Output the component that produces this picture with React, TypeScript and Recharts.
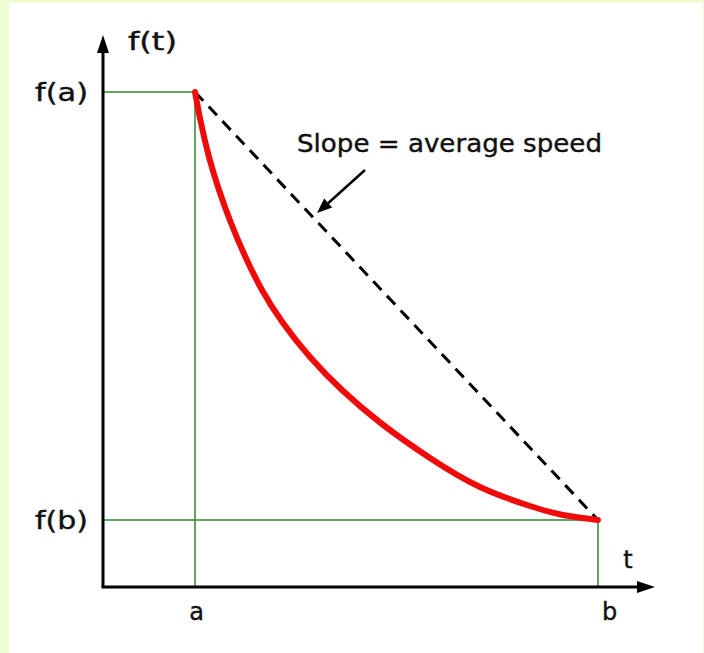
import React from "react";
import {
  ComposedChart,
  Line,
  Scatter,
  XAxis,
  YAxis,
  ReferenceLine,
} from "recharts";

// Units: t and f, origin at the axes crossing
const T_A = 0.92;
const T_B = 4.95;
const F_A = 4.95;
const F_B = 0.67;
const AXIS_END_T = 5.52;
const AXIS_END_F = 5.52;

const curveT = [0.92, 0.98, 1.06, 1.16, 1.28, 1.42, 1.59, 1.8, 2.07, 2.39, 2.79, 3.27, 3.77, 4.27, 4.6, 4.95];
const curveF = [4.95, 4.64, 4.3, 3.97, 3.64, 3.31, 2.97, 2.64, 2.3, 1.97, 1.63, 1.29, 1.0, 0.81, 0.72, 0.67];
const curveData = curveT.map((t, i) => ({ t, f: curveF[i] }));

const secantData = [
  { t: T_A, f: F_A },
  { t: T_B, f: F_B },
];

const annotArrowFrom = { t: 2.62, f: 4.17 };
const annotArrowTo = { t: 2.14, f: 3.74 };

const labelTexts = ["f(t)", "f(a)", "f(b)", "a", "b", "t", "Slope = average speed"];
const labelT = [0.25, -0.15, -0.15, 0.935, 5.065, 5.25, 1.94];
const labelF = [5.37, 4.86, 0.58, -0.33, -0.33, 0.19, 4.35];
const labelAnchor = ["start", "end", "end", "middle", "middle", "middle", "start"];
const labelWidth = [49, 53, 53, 0, 0, 0, 305];
const labelData = labelTexts.map((text, i) => ({
  t: labelT[i],
  f: labelF[i],
  text,
  anchor: labelAnchor[i],
  w: labelWidth[i],
}));

const arrowHeads = [
  { t: 0, f: AXIS_END_F, angle: -90 },
  { t: AXIS_END_T, f: 0, angle: 0 },
];

const FONT = "'DejaVu Sans', sans-serif";

const ArrowHead = (props: any) => {
  const { cx, cy, payload } = props;
  const ang = ((payload.angle ?? 0) * Math.PI) / 180;
  const len = payload.len ?? 18;
  const half = payload.half ?? 6;
  const cos = Math.cos(ang);
  const sin = Math.sin(ang);
  const bx = cx - len * cos;
  const by = cy - len * sin;
  const p1 = `${cx},${cy}`;
  const p2 = `${bx - half * sin},${by + half * cos}`;
  const p3 = `${bx + half * sin},${by - half * cos}`;
  return <polygon points={`${p1} ${p2} ${p3}`} fill="#000" />;
};

const TextShape = (props: any) => {
  const { cx, cy, payload } = props;
  const w = payload.w;
  return (
    <text
      x={cx}
      y={cy}
      textAnchor={payload.anchor}
      fontFamily={FONT}
      fontSize={24}
      fill="#111"
      stroke="#111"
      strokeWidth={0.4}
      textLength={w ? w : undefined}
      lengthAdjust={w ? "spacingAndGlyphs" : undefined}
    >
      {payload.text}
    </text>
  );
};

const annotAngle =
  (Math.atan2(-(annotArrowTo.f - annotArrowFrom.f) * 100, (annotArrowTo.t - annotArrowFrom.t) * 100) * 180) /
  Math.PI;
const annotHead = [{ ...annotArrowTo, angle: annotAngle, len: 15, half: 6 }];

export default function App() {
  return (
    <div
      style={{
        position: "absolute",
        left: 0,
        top: 0,
        width: 704,
        height: 653,
        background: "#eefcd2",
      }}
    >
      <div
        style={{
          position: "absolute",
          left: 9,
          top: 3,
          width: 694,
          height: 650,
          background: "#ffffff",
        }}
      />
      <div style={{ position: "absolute", left: 0, top: 0 }}>
        <ComposedChart width={704} height={653} margin={{ top: 0, right: 0, bottom: 0, left: 0 }}>
          <XAxis type="number" dataKey="t" domain={[-1.03, 6.01]} allowDataOverflow hide />
          <YAxis type="number" dataKey="f" domain={[-0.66, 5.87]} allowDataOverflow hide />

          {/* green guides */}
          <ReferenceLine segment={[{ x: 0, y: F_A }, { x: T_A, y: F_A }]} stroke="#2a8a2a" strokeWidth={1.5} />
          <ReferenceLine segment={[{ x: T_A, y: F_A }, { x: T_A, y: 0 }]} stroke="#2a8a2a" strokeWidth={1.5} />
          <ReferenceLine segment={[{ x: 0, y: F_B }, { x: T_B, y: F_B }]} stroke="#2a8a2a" strokeWidth={1.5} />
          <ReferenceLine segment={[{ x: T_B, y: F_B }, { x: T_B, y: 0 }]} stroke="#2a8a2a" strokeWidth={1.5} />

          {/* axes */}
          <ReferenceLine segment={[{ x: 0, y: 0 }, { x: 0, y: AXIS_END_F - 0.1 }]} stroke="#000" strokeWidth={3} />
          <ReferenceLine segment={[{ x: -0.015, y: 0 }, { x: AXIS_END_T - 0.1, y: 0 }]} stroke="#000" strokeWidth={3} />

          {/* annotation arrow shaft */}
          <ReferenceLine
            segment={[
              { x: annotArrowFrom.t, y: annotArrowFrom.f },
              { x: annotArrowTo.t + 0.08, y: annotArrowTo.f + 0.07 },
            ]}
            stroke="#000"
            strokeWidth={2.5}
          />

          <Line
            data={secantData}
            dataKey="f"
            type="linear"
            stroke="#000"
            strokeWidth={3}
            strokeDasharray="12 8"
            dot={false}
            isAnimationActive={false}
          />
          <Line
            data={curveData}
            dataKey="f"
            type="natural"
            stroke="#f00a0a"
            strokeWidth={6}
            strokeLinecap="round"
            dot={false}
            isAnimationActive={false}
          />

          <Scatter data={arrowHeads} dataKey="f" shape={ArrowHead} isAnimationActive={false} />
          <Scatter data={annotHead} dataKey="f" shape={ArrowHead} isAnimationActive={false} />
          <Scatter data={labelData} dataKey="f" shape={TextShape} isAnimationActive={false} />
        </ComposedChart>
      </div>
    </div>
  );
}
